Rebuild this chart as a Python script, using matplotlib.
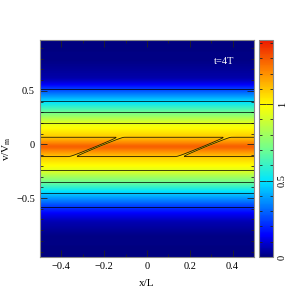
import numpy as np
import matplotlib.pyplot as plt
from matplotlib.colors import LinearSegmentedColormap
from matplotlib.ticker import MultipleLocator

plt.rcParams['font.family'] = ['Liberation Serif', 'DejaVu Serif']
plt.rcParams['mathtext.fontset'] = 'stix'

# velocity profile of the field (v/Vm, value)
v_knots = [-1.06, -0.85, -0.72, -0.65, -0.58, -0.45, -0.35, -0.24, -0.11,
           -0.02, 0.065, 0.20, 0.30, 0.41, 0.52, 0.57, 0.62, 0.78, 0.98]
f_knots = [0.0, 0.01, 0.06, 0.13, 0.235, 0.47, 0.705, 0.94, 1.10,
           1.30, 1.10, 0.94, 0.705, 0.47, 0.235, 0.12, 0.05, 0.01, 0.0]

# contour levels
levels = [0.235, 0.47, 0.705, 0.94, 1.10]

# thin sheared cuts through the core (x at v=-0.02, slope dx/dv, period)
cut_x0 = -0.232
cut_slope = 1.22
cut_period = 0.5
cut_floor = 1.06
cut_width = 0.012

# colour scale as on the colour bar
cmap_pos = [0.0, 0.1, 0.35, 0.5, 0.7, 0.85, 1.0]
cmap_col = [(0, 0, 0.5), (0, 0, 1), (0, 0.9, 1), (0.45, 1, 0.55),
            (1, 1, 0), (1, 0.55, 0), (0.93, 0.1, 0)]
cmap = LinearSegmentedColormap.from_list('jetlike', list(zip(cmap_pos, cmap_col)))

x = np.linspace(-0.5, 0.5, 401)
v = np.linspace(-1.05, 0.975, 601)
X, V = np.meshgrid(x, v)

F = np.interp(v, v_knots, f_knots)
k = np.hanning(13)
k /= k.sum()
F = np.convolve(np.pad(F, 6, mode='edge'), k, mode='valid')
f = np.repeat(F[:, None], len(x), axis=1)

d = X - cut_x0 - cut_slope * (V + 0.02)
d = (d + cut_period / 2) % cut_period - cut_period / 2
dip = np.exp(-(d / cut_width) ** 4)
f = f - dip * np.clip(f - cut_floor, 0, None)

fig = plt.figure(figsize=(2.89, 2.90), dpi=100)
ax = fig.add_axes([0.138, 0.114, 0.741, 0.748])

im = ax.imshow(f, origin='lower', extent=[-0.5, 0.5, -1.05, 0.975],
               aspect='auto', cmap=cmap, vmin=0, vmax=1.42,
               interpolation='bilinear')
ax.contour(X, V, f, levels=levels, colors='k', linewidths=0.6, alpha=0.85)

ax.set_xlim(-0.5, 0.5)
ax.set_ylim(-1.05, 0.975)
ax.set_xticks([-0.4, -0.2, 0, 0.2, 0.4])
ax.set_xticklabels(['\u22120.4', '\u22120.2', '0', '0.2', '0.4'])
ax.set_yticks([-0.5, 0, 0.5])
ax.set_yticklabels(['\u22120.5', '0', '0.5'])
ax.xaxis.set_minor_locator(MultipleLocator(0.1))
ax.yaxis.set_minor_locator(MultipleLocator(0.1))
ax.tick_params(which='both', direction='in', top=True, right=True,
               labelsize=7.5, width=0.6, color='#222222')
ax.tick_params(which='major', length=5)
ax.tick_params(which='minor', length=2.5)
for s in ax.spines.values():
    s.set_color('#888888')
    s.set_linewidth(0.8)

ax.set_xlabel('x/L', fontsize=8, labelpad=6)
ax.set_ylabel('v/V$_\\mathrm{m}$', fontsize=8, labelpad=2)
ax.text(0.36, 0.77, 't=4T', color='white', fontsize=7.5, ha='center',
        va='center')

cax = fig.add_axes([0.896, 0.114, 0.049, 0.748])
cb = fig.colorbar(im, cax=cax)
cb.set_ticks([0, 0.5, 1])
cb.set_ticklabels(['0', '0.5', '1'])
cax.yaxis.set_minor_locator(MultipleLocator(0.1))
cax.tick_params(which='both', direction='in', left=True, right=True,
                labelsize=7.5, width=0.6, color='#222222')
cax.tick_params(which='major', length=5)
cax.tick_params(which='minor', length=2.5)
for t in cax.get_yticklabels():
    t.set_rotation(90)
    t.set_va('center')
cb.outline.set_edgecolor('#888888')
cb.outline.set_linewidth(0.8)

plt.savefig('out.png', dpi=100)
